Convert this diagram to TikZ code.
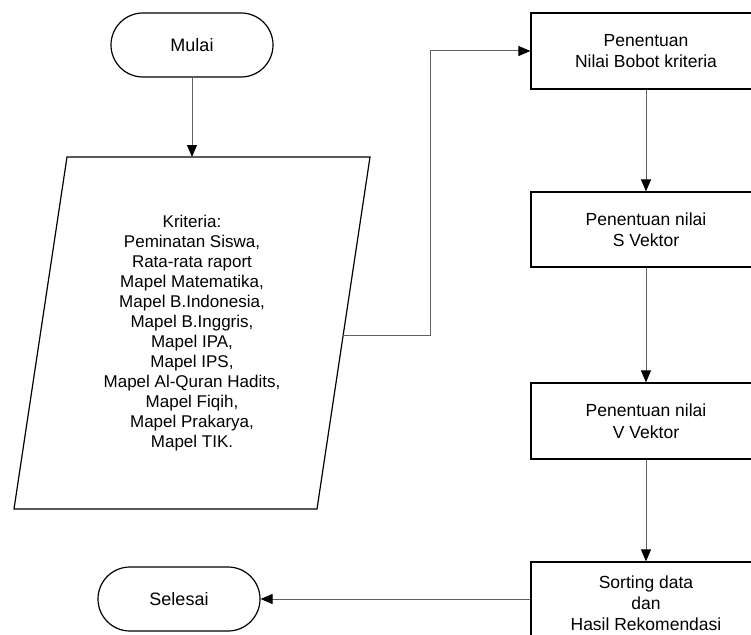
\documentclass[tikz,border=0pt]{standalone}
\usepackage{fontspec}
\setmainfont{Liberation Sans}
\usetikzlibrary{arrows.meta}
\begin{document}
\begin{tikzpicture}[x=1pt,y=-1pt,
  shapeline/.style={draw=black,line width=1.2pt},
  terminal/.style={shapeline,rectangle,rounded corners=32pt,minimum width=162pt,minimum height=64pt,font=\fontsize{18}{21.5}\selectfont},
  procbox/.style={shapeline,rectangle,minimum width=230pt,align=center,inner sep=0pt,font=\fontsize{17.5}{21.5}\selectfont},
  flow/.style={draw=black!62,line width=1pt,-{Triangle[length=12pt,width=10pt,color=black]}}]
\useasboundingbox (0,0) rectangle (751,634);
\clip (0,0) rectangle (751,634);

% start / end terminals
\node[terminal] (mulai) at (192,45) {Mulai};
\node[terminal] (selesai) at (179,599) {Selesai};

% input parallelogram with the list of criteria
\coordinate (pTL) at (67,157);
\coordinate (pTR) at (370,157);
\coordinate (pBR) at (317,509);
\coordinate (pBL) at (14,509);
\coordinate (pIn) at (192,157);
\coordinate (pOut) at (343.2,335);
\draw[shapeline] (pTL) -- (pTR) -- (pBR) -- (pBL) -- cycle;
\node[align=center,font=\fontsize{17}{20}\selectfont] (kriteria) at (192,333) {Kriteria:\\Peminatan Siswa,\\Rata-rata raport\\Mapel Matematika,\\Mapel B.Indonesia,\\Mapel B.Inggris,\\Mapel IPA,\\Mapel IPS,\\Mapel Al-Quran Hadits,\\Mapel Fiqih,\\Mapel Prakarya,\\Mapel TIK.};

% process steps
\node[procbox,minimum height=76pt] (bobot) at (646,51) {Penentuan\\Nilai Bobot kriteria};
\node[procbox,minimum height=75pt] (svek) at (646,229.5) {Penentuan nilai\\S Vektor};
\node[procbox,minimum height=76pt] (vvek) at (646,421) {Penentuan nilai\\V Vektor};
\node[procbox,minimum height=82pt,font=\fontsize{17.5}{21}\selectfont] (sort) at (646,603) {Sorting data\\dan\\Hasil Rekomendasi};

% connectors
\coordinate (bend) at (430,335);
\draw[flow] (mulai) -- (pIn);
\draw[flow] (pOut) -- (bend) |- (bobot.west);
\draw[flow] (bobot) -- (svek);
\draw[flow] (svek) -- (vvek);
\draw[flow] (vvek) -- (sort);
\draw[flow] (sort.west |- selesai) -- (selesai);
\end{tikzpicture}
\end{document}
